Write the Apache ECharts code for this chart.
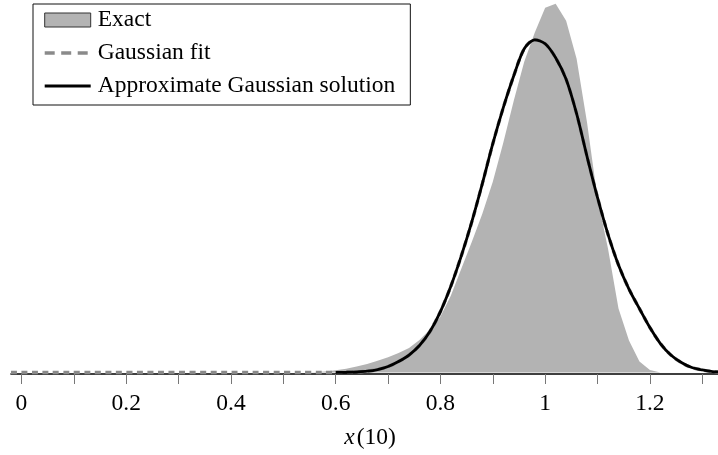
<!DOCTYPE html>
<html>
<head>
<meta charset="utf-8">
<title>x(10) distribution</title>
<script src="https://cdn.jsdelivr.net/npm/echarts@6/dist/echarts.min.js"></script>
<style>
  html, body { margin: 0; padding: 0; background: #fff; }
  #chart { width: 718px; height: 455px; }
</style>
</head>
<body>
<div id="chart"></div>
<script>
// Probability density of x(10): exact distribution vs. Gaussian approximations.

// Exact density (filled area)
const exactX = [0.52, 0.54, 0.56, 0.58, 0.60, 0.62, 0.64, 0.66, 0.68, 0.70,
                0.72, 0.74, 0.76, 0.78, 0.80, 0.82, 0.84, 0.86, 0.88, 0.90,
                0.92, 0.94, 0.96, 0.98, 1.00, 1.02, 1.04, 1.06, 1.08, 1.10,
                1.12, 1.14, 1.16, 1.18, 1.20, 1.22];
const exactY = [0.000, 0.001, 0.004, 0.011, 0.025, 0.043, 0.069, 0.097, 0.135, 0.175,
                0.223, 0.280, 0.371, 0.491, 0.640, 0.880, 1.189, 1.497, 1.817, 2.183,
                2.629, 3.109, 3.554, 3.886, 4.171, 4.217, 4.023, 3.589, 2.857, 1.989,
                1.417, 0.731, 0.366, 0.126, 0.029, 0.000];

// Gaussian fit (dashed), sampled on a regular grid
const fitX = [-0.02, 0.58, 0.60, 0.62, 0.64, 0.66, 0.68, 0.70, 0.72, 0.74,
              0.76, 0.78, 0.80, 0.82, 0.84, 0.86, 0.88, 0.90, 0.92, 0.94,
              0.96, 0.98, 1.00, 1.02, 1.04, 1.06, 1.08, 1.10, 1.12, 1.14,
              1.16, 1.18, 1.20, 1.22, 1.24, 1.26, 1.28, 1.30, 1.32, 1.34];
const fitY = [0.000, 0.000, 0.001, 0.003, 0.007, 0.015, 0.034, 0.069, 0.126, 0.200,
              0.309, 0.469, 0.697, 0.989, 1.337, 1.726, 2.160, 2.617, 3.029, 3.394,
              3.703, 3.806, 3.760, 3.600, 3.354, 2.960, 2.469, 2.000, 1.580, 1.230,
              0.955, 0.731, 0.514, 0.331, 0.200, 0.114, 0.057, 0.029, 0.011, 0.003];

// Approximate Gaussian solution (solid)
const approxX = [0.60, 0.62, 0.64, 0.66, 0.68, 0.70, 0.72, 0.74,
                 0.76, 0.78, 0.80, 0.82, 0.84, 0.86, 0.88, 0.90, 0.92, 0.94,
                 0.96, 0.98, 1.00, 1.02, 1.04, 1.06, 1.08, 1.10, 1.12, 1.14,
                 1.16, 1.18, 1.20, 1.22, 1.24, 1.26, 1.28, 1.30, 1.32, 1.34];
const approxY = [0.001, 0.003, 0.007, 0.015, 0.034, 0.069, 0.126, 0.200,
                 0.309, 0.469, 0.697, 0.989, 1.337, 1.726, 2.160, 2.617, 3.029, 3.394,
                 3.703, 3.806, 3.760, 3.600, 3.354, 2.960, 2.469, 2.000, 1.580, 1.230,
                 0.955, 0.731, 0.514, 0.331, 0.200, 0.114, 0.057, 0.029, 0.011, 0.003];

// Axis ticks and labels
const tickValues  = [0, 0.1, 0.2, 0.3, 0.4, 0.5, 0.6, 0.7, 0.8, 0.9, 1.0, 1.1, 1.2, 1.3];
const labelValues = [0, 0.2, 0.4, 0.6, 0.8, 1.0, 1.2];

const FONT = '"Liberation Serif", "Times New Roman", serif';
const toPairs = (xs, ys) => xs.map((x, i) => [x, ys[i]]);

// Legend entries for the curves show only their line, no marker
const hiddenMarker = { color: 'rgba(0,0,0,0)', borderWidth: 0, opacity: 0 };

const chart = echarts.init(document.getElementById('chart'), null, { renderer: 'canvas' });

chart.setOption({
  animation: false,
  backgroundColor: '#fff',
  grid: { left: 11, right: 0, top: 0, bottom: 80.7, containLabel: false },
  legend: {
    orient: 'vertical',
    left: 33,
    top: 4,
    padding: [4, 15, 7, 10],
    itemGap: 9,
    itemWidth: 46,
    itemHeight: 14,
    borderColor: '#111',
    borderWidth: 1,
    backgroundColor: '#fff',
    textStyle: { fontFamily: FONT, fontSize: 23.5, color: '#000', lineHeight: 24, padding: [0, 0, 0, 2] },
    data: [
      { name: 'Exact', icon: 'rect', itemStyle: { color: '#b3b3b3', borderColor: '#333', borderWidth: 1 } },
      { name: 'Gaussian fit', itemStyle: hiddenMarker,
        lineStyle: { type: [10, 6.5], width: 3.4, color: '#8a8a8a' } },
      { name: 'Approximate Gaussian solution', itemStyle: hiddenMarker,
        lineStyle: { width: 3, color: '#000' } }
    ]
  },
  xAxis: {
    type: 'value',
    min: -0.02,
    max: 1.33,
    name: '{i|x}{n|(10)}',
    nameLocation: 'middle',
    nameGap: 52,
    nameTextStyle: {
      padding: [0, 0, 0, 11],
      rich: {
        i: { fontFamily: FONT, fontSize: 23.5, fontStyle: 'italic', color: '#000', padding: [0, 2, 0, 0] },
        n: { fontFamily: FONT, fontSize: 23.5, color: '#000' }
      }
    },
    axisLine: { show: true, onZero: false, lineStyle: { color: '#000', width: 1.6 } },
    axisTick: { show: true, customValues: tickValues, length: 10, lineStyle: { color: '#777', width: 1 } },
    axisLabel: {
      customValues: labelValues,
      margin: 18,
      fontFamily: FONT,
      fontSize: 23.5,
      color: '#000'
    },
    splitLine: { show: false }
  },
  yAxis: {
    type: 'value',
    min: -0.017,
    max: 4.261,
    show: false,
    splitLine: { show: false }
  },
  series: [
    {
      name: 'Exact',
      type: 'line',
      data: toPairs(exactX, exactY),
      symbol: 'none',
      lineStyle: { width: 0, color: '#b3b3b3' },
      itemStyle: { color: '#b3b3b3' },
      areaStyle: { color: '#b3b3b3', opacity: 1, origin: 0 },
      z: 1
    },
    {
      name: 'Gaussian fit',
      type: 'line',
      data: toPairs(fitX, fitY),
      symbol: 'none',
      smooth: 0.3,
      lineStyle: { width: 3.4, color: '#8a8a8a', type: [6, 4.5] },
      itemStyle: { color: '#8a8a8a' },
      z: 2
    },
    {
      name: 'Approximate Gaussian solution',
      type: 'line',
      data: toPairs(approxX, approxY),
      symbol: 'none',
      smooth: 0.3,
      lineStyle: { width: 2.8, color: '#000' },
      itemStyle: { color: '#000' },
      z: 3
    }
  ]
});
</script>
</body>
</html>
